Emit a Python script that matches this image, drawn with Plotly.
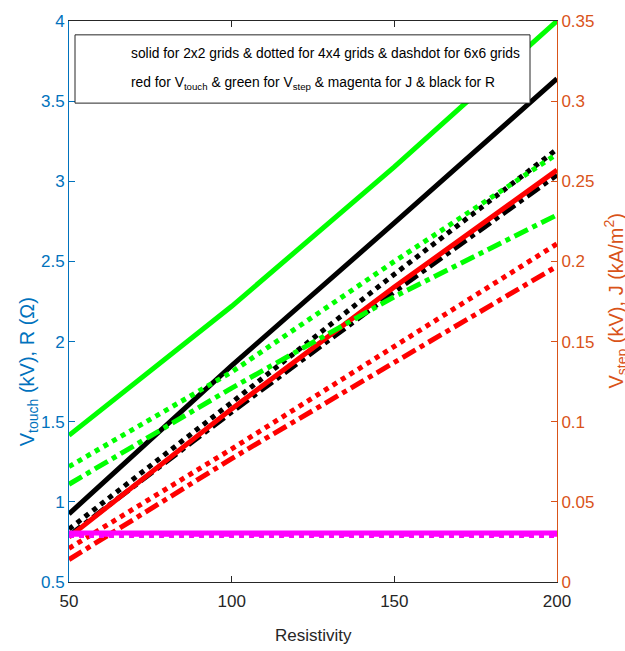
import plotly.graph_objects as go

# ---- data ----
resistivity = [50, 100, 150, 200]

# left axis: V_touch (kV) red, R (ohm) black
vtouch_2x2 = [0.78, 1.58, 2.34, 3.07]
vtouch_4x4 = [0.71, 1.33, 1.97, 2.61]
vtouch_6x6 = [0.64, 1.27, 1.87, 2.47]
r_2x2 = [0.925, 1.85, 2.74, 3.64]
r_4x4 = [0.83, 1.62, 2.42, 3.20]
r_6x6 = [0.79, 1.56, 2.31, 3.04]

# right axis: V_step (kV) green, J (kA/m^2) magenta
vstep_2x2 = [0.0915, 0.172, 0.259, 0.35]
vstep_4x4 = [0.072, 0.131, 0.200, 0.267]
vstep_6x6 = [0.061, 0.121, 0.178, 0.229]
j_2x2 = [0.0305, 0.0305, 0.0305, 0.0305]
j_4x4 = [0.0290, 0.0290, 0.0290, 0.0290]
j_6x6 = [0.0298, 0.0298, 0.0298, 0.0298]

left_ticks = [0.5, 1, 1.5, 2, 2.5, 3, 3.5, 4]
right_ticks = [0, 0.05, 0.1, 0.15, 0.2, 0.25, 0.3, 0.35]
x_ticks = [50, 100, 150, 200]

FONT = "Liberation Sans, Arial, sans-serif"
BLUE = "#0072BD"
ORANGE = "#D95319"
GRAY = "#262626"
LW = 5

fig = go.Figure()

def add(y, color, dash, axis):
    fig.add_trace(go.Scatter(x=resistivity, y=y, mode="lines",
                             line=dict(color=color, width=LW, dash=dash),
                             yaxis=axis, showlegend=False, hoverinfo="skip"))

dd = "15px,5px,5px,5px"
add(r_2x2, "#000000", "solid", "y")
add(r_4x4, "#000000", "dot", "y")
add(r_6x6, "#000000", dd, "y")
add(vtouch_2x2, "#FF0000", "solid", "y")
add(vtouch_4x4, "#FF0000", "dot", "y")
add(vtouch_6x6, "#FF0000", dd, "y")
add(vstep_2x2, "#00FF00", "solid", "y2")
add(vstep_4x4, "#00FF00", "dot", "y2")
add(vstep_6x6, "#00FF00", dd, "y2")
add(j_4x4, "#FF00FF", "dot", "y2")
add(j_6x6, "#FF00FF", dd, "y2")
add(j_2x2, "#FF00FF", "solid", "y2")

L, R, T, B = 69, 557, 15, 582
W, H = R - L, B - T
def px(x):
    return (x - L) / W
def py(y):
    return (B - y) / H

TS = 17
fig.update_layout(
    width=625, height=651,
    margin=dict(l=L, r=625 - R, t=T, b=651 - B),
    paper_bgcolor="white", plot_bgcolor="white",
    font=dict(family=FONT, size=TS, color=GRAY),
    xaxis=dict(range=[50, 200], tickvals=x_ticks, ticks="inside", ticklen=6,
               showline=True, linecolor=GRAY, linewidth=1, mirror="ticks",
               tickcolor=GRAY, showgrid=False, zeroline=False,
               ticklabelstandoff=4,
               tickfont=dict(family=FONT, size=TS, color=GRAY)),
    yaxis=dict(range=[0.5, 4], tickvals=left_ticks,
               ticktext=[f"{v:g}" for v in left_ticks],
               ticks="inside", ticklen=6, showline=True, linecolor=BLUE,
               tickcolor=BLUE, linewidth=1, showgrid=False, zeroline=False,
               tickfont=dict(family=FONT, size=TS, color=BLUE)),
    yaxis2=dict(range=[0, 0.35], tickvals=right_ticks,
                ticktext=[f"{v:g}" for v in right_ticks],
                overlaying="y", side="right", ticks="inside", ticklen=6,
                showline=True, linecolor=ORANGE, tickcolor=ORANGE, linewidth=1,
                showgrid=False, zeroline=False,
                tickfont=dict(family=FONT, size=TS, color=ORANGE)),
)

# legend box
fig.add_shape(type="rect", xref="paper", yref="paper",
              x0=px(75), x1=px(530), y0=py(98), y1=py(29),
              line=dict(color=GRAY, width=1), fillcolor="white", layer="above")
fig.add_annotation(xref="paper", yref="paper", x=px(129), y=py(48),
                   xanchor="left", yanchor="middle", showarrow=False,
                   text="solid for 2x2 grids & dotted for 4x4 grids & dashdot for 6x6 grids",
                   font=dict(family=FONT, size=13.8, color="#000000"))
fig.add_annotation(xref="paper", yref="paper", x=px(129), y=py(78),
                   xanchor="left", yanchor="middle", showarrow=False,
                   text="red for V<sub>touch</sub> & green for V<sub>step</sub> & magenta for J & black for R",
                   font=dict(family=FONT, size=13.8, color="#000000"))

# axis titles
fig.add_annotation(xref="paper", yref="paper", x=px(313), y=py(636),
                   xanchor="center", yanchor="middle", showarrow=False,
                   text="Resistivity", font=dict(family=FONT, size=17, color=GRAY))
fig.add_annotation(xref="paper", yref="paper", x=px(28), y=py(370),
                   xanchor="center", yanchor="middle", showarrow=False, textangle=-90,
                   text="V<sub>touch</sub> (kV), R (Ω)",
                   font=dict(family=FONT, size=20, color=BLUE))
fig.add_annotation(xref="paper", yref="paper", x=px(599), y=py(298),
                   xanchor="left", yanchor="middle", showarrow=False, textangle=-90,
                   text="V<sub>step</sub> (kV), J (kA/m<sup>2</sup>)",
                   font=dict(family=FONT, size=20, color=ORANGE))

fig.write_html("out.html")
